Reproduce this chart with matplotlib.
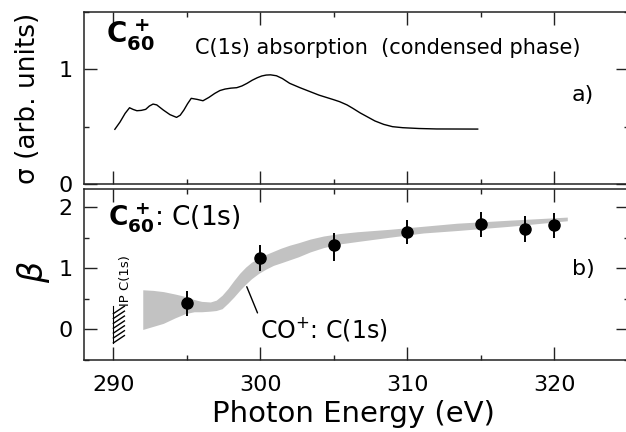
import matplotlib
matplotlib.use('Agg')
import matplotlib.pyplot as plt
import numpy as np
from matplotlib.ticker import MultipleLocator

plt.rcParams['font.family'] = ['DejaVu Sans']
plt.rcParams['mathtext.fontset'] = 'dejavusans'

# ---------------- data ----------------
# panel a: C(1s) absorption of condensed C60
sig_e = [290.1, 290.45, 290.8, 291.1, 291.35, 291.6, 291.9, 292.2, 292.45, 292.7,
         292.95, 293.4, 293.85, 294.3, 294.55, 294.8, 295.05, 295.3, 295.7, 296.1,
         296.5, 296.9, 297.25, 297.6, 298.0, 298.4, 298.75, 299.1, 299.45, 299.8,
         300.1, 300.4, 300.7, 301.1, 301.5, 302.0, 302.7, 303.4, 304.0, 304.5,
         305.0, 305.4, 305.9, 306.3, 306.8, 307.3, 307.8, 308.4, 309.0, 309.7,
         310.8, 312.0, 314.8]
sig = [0.477, 0.540, 0.616, 0.665, 0.650, 0.639, 0.642, 0.651, 0.680, 0.697,
       0.690, 0.645, 0.605, 0.581, 0.600, 0.645, 0.700, 0.747, 0.738, 0.726,
       0.755, 0.790, 0.815, 0.828, 0.836, 0.840, 0.855, 0.878, 0.905, 0.927,
       0.942, 0.950, 0.952, 0.944, 0.920, 0.878, 0.840, 0.805, 0.775, 0.755,
       0.735, 0.718, 0.690, 0.660, 0.620, 0.585, 0.550, 0.520, 0.500, 0.491,
       0.484, 0.480, 0.479]

# panel b: beta for C60+ C(1s)
pt_e = [295, 300, 305, 310, 315, 318, 320]
pt_beta = [0.43, 1.17, 1.38, 1.60, 1.73, 1.64, 1.71]
err_lo = [0.21, 0.22, 0.26, 0.20, 0.21, 0.20, 0.22]
err_hi = [0.20, 0.21, 0.20, 0.19, 0.20, 0.21, 0.19]

# CO+ C(1s) band
band_e = [292.0, 292.7, 293.4, 294.2, 294.9, 295.5, 296.0, 296.6, 297.0, 297.4,
          297.8, 298.2, 298.6, 299.0, 299.4, 299.9, 300.4, 300.9, 301.4, 302.0,
          302.6, 303.4, 304.3, 305.4, 306.6, 308.8, 311.1, 313.4, 317.0, 320.9]
band_hi = [0.65, 0.64, 0.62, 0.58, 0.54, 0.49, 0.46, 0.45, 0.48, 0.56,
           0.67, 0.80, 0.92, 1.02, 1.10, 1.17, 1.23, 1.28, 1.33, 1.38,
           1.42, 1.48, 1.53, 1.57, 1.60, 1.64, 1.69, 1.74, 1.79, 1.84]
band_lo = [0.00, 0.05, 0.10, 0.19, 0.26, 0.29, 0.29, 0.30, 0.31, 0.34,
           0.43, 0.53, 0.64, 0.74, 0.83, 0.92, 0.99, 1.05, 1.09, 1.14,
           1.19, 1.27, 1.34, 1.40, 1.44, 1.51, 1.58, 1.62, 1.69, 1.78]

ip_energy = 290.0
ip_range = [-0.22, 0.38]

x_ticks = [290, 300, 310, 320]

# ---------------- figure ----------------
W, H = 626, 432
fig = plt.figure(figsize=(W / 100, H / 100), dpi=100)


def pos(l, t, r, b):
    return [l / W, 1 - b / H, (r - l) / W, (b - t) / H]


ax1 = fig.add_axes(pos(84, 12, 629, 184))
ax2 = fig.add_axes(pos(84, 189, 629, 360))

for ax in (ax1, ax2):
    ax.set_xlim(288.0, 325.1)
    ax.set_xticks(x_ticks)
    ax.xaxis.set_minor_locator(MultipleLocator(5))
    ax.yaxis.set_minor_locator(MultipleLocator(0.5))
    ax.tick_params(which='both', direction='in', top=True, right=True,
                   width=1.0, colors='#222222', labelcolor='black')
    ax.tick_params(which='major', length=9.5, labelsize=16, pad=8)
    ax.tick_params(which='minor', length=3.5)
    for s in ax.spines.values():
        s.set_linewidth(1.1)
        s.set_color('#222222')

# panel a
ax1.set_ylim(0, 1.5)
ax1.set_yticks([0, 1])
ax1.tick_params(axis='x', labelbottom=False)
ax1.plot(sig_e, sig, color='black', lw=1.0)
ax1.set_ylabel('σ (arb. units)', fontsize=19, va='center')
ax1.yaxis.set_label_coords(-0.103, 0.5)
ax1.text(289.5, 1.14, r'$\mathbf{C_{60}^{\,+}}$', fontsize=20, va='bottom')
ax1.text(295.55, 1.186, 'C(1s) absorption  (condensed phase)', fontsize=15,
         va='center', ha='left')
ax1.text(321.2, 0.776, 'a)', fontsize=16, va='center', ha='left')

# panel b
ax2.set_ylim(-0.5, 2.3)
ax2.set_yticks([0, 1, 2])
ax2.tick_params(axis='x', pad=11)
ax2.fill_between(band_e, band_lo, band_hi, color='#c2c2c2', lw=0)
ax2.errorbar(pt_e, pt_beta, yerr=[err_lo, err_hi], fmt='o', color='black',
             ms=8, elinewidth=1.4, capsize=0)
ax2.set_ylabel(r'$\beta$', fontsize=24, va='center', rotation=90)
ax2.yaxis.set_label_coords(-0.092, 0.515)
ax2.set_xlabel('Photon Energy (eV)', fontsize=21, va='center')
ax2.xaxis.set_label_coords(0.495, -0.316)

ax2.text(289.6, 1.83, r'$\mathbf{C_{60}^{\,+}}$: C(1s)', fontsize=19,
         va='center', ha='left')
ax2.text(321.2, 0.99, 'b)', fontsize=16, va='center', ha='left')
ax2.annotate('CO$^{+}$: C(1s)', xy=(299.08, 0.70), xytext=(300.0, 0.0),
             fontsize=17, va='center', ha='left',
             arrowprops=dict(arrowstyle='-', color='black', lw=1.0,
                             shrinkA=0, shrinkB=0, relpos=(0.0, 0.85)))

# ionisation potential marker
ax2.plot([ip_energy, ip_energy], ip_range, color='black', lw=0.8)
for yy in np.linspace(ip_range[0], ip_range[1] - 0.12, 7):
    ax2.plot([ip_energy, ip_energy + 0.75], [yy, yy + 0.12], color='black',
             lw=1.0)
ax2.text(ip_energy + 0.85, 0.80, 'IP C(1s)', fontsize=9.5, rotation=90,
         ha='center', va='center')

fig.savefig('out.png', dpi=100)
